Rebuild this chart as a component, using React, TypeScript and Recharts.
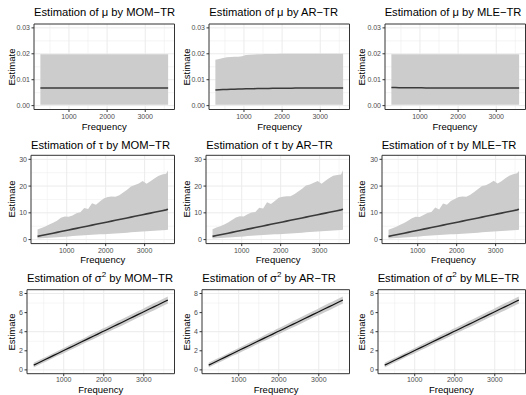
import React from "react";
import {
  ComposedChart,
  Area,
  Line,
  XAxis,
  YAxis,
  CartesianGrid,
  ReferenceArea,
} from "recharts";

// frequencies shared by every panel
const frequency = [
  250, 350, 450, 550, 650, 750, 850, 950, 1050, 1150, 1250, 1350, 1450, 1550,
  1650, 1750, 1850, 1950, 2050, 2150, 2250, 2350, 2450, 2550, 2650, 2750, 2850,
  2950, 3050, 3150, 3250, 3350, 3450, 3550, 3600,
];

// mu
const muEstMOM = [
  0.0068, 0.0068, 0.0068, 0.0068, 0.0068, 0.0068, 0.0068, 0.0068, 0.0068, 0.0068,
  0.0068, 0.0068, 0.0068, 0.0068, 0.0068, 0.0068, 0.0068, 0.0068, 0.0068, 0.0068,
  0.0068, 0.0068, 0.0068, 0.0068, 0.0068, 0.0068, 0.0068, 0.0068, 0.0068, 0.0068,
  0.0068, 0.0068, 0.0068, 0.0068, 0.0068,
];
const muLowMOM = [
  0.0003, 0.0003, 0.0003, 0.0003, 0.0003, 0.0003, 0.0003, 0.0003, 0.0003, 0.0003,
  0.0003, 0.0003, 0.0003, 0.0003, 0.0003, 0.0003, 0.0003, 0.0003, 0.0003, 0.0003,
  0.0003, 0.0003, 0.0003, 0.0003, 0.0003, 0.0003, 0.0003, 0.0003, 0.0003, 0.0003,
  0.0003, 0.0003, 0.0003, 0.0003, 0.0003,
];
const muHighMOM = [
  0.0198, 0.0198, 0.0198, 0.0198, 0.0198, 0.0198, 0.0198, 0.0198, 0.0198, 0.0198,
  0.0198, 0.0198, 0.0198, 0.0198, 0.0198, 0.0198, 0.0198, 0.0198, 0.0198, 0.0198,
  0.0198, 0.0198, 0.0198, 0.0198, 0.0198, 0.0198, 0.0198, 0.0198, 0.0198, 0.0198,
  0.0198, 0.0198, 0.0198, 0.0198, 0.0198,
];
const muEstAR = [
  0.006, 0.0061, 0.0062, 0.0062, 0.0063, 0.0063, 0.0064, 0.0064, 0.0065, 0.0065,
  0.0065, 0.0066, 0.0066, 0.0066, 0.0066, 0.0067, 0.0067, 0.0067, 0.0067, 0.0067,
  0.0067, 0.0068, 0.0068, 0.0068, 0.0068, 0.0068, 0.0068, 0.0068, 0.0068, 0.0068,
  0.0068, 0.0068, 0.0068, 0.0068, 0.0068,
];
const muHighAR = [
  0.0177, 0.018, 0.0184, 0.0187, 0.0188, 0.0189, 0.0189, 0.0191, 0.0195, 0.0196,
  0.0197, 0.0198, 0.0198, 0.0199, 0.0199, 0.0199, 0.0199, 0.02, 0.02, 0.02,
  0.02, 0.02, 0.02, 0.02, 0.02, 0.02, 0.02, 0.02, 0.02, 0.02,
  0.02, 0.02, 0.02, 0.02, 0.02,
];
const muEstMLE = [
  0.007, 0.007, 0.0069, 0.0069, 0.0069, 0.0069, 0.0069, 0.0069, 0.0069, 0.0068,
  0.0068, 0.0068, 0.0068, 0.0068, 0.0068, 0.0068, 0.0068, 0.0068, 0.0068, 0.0068,
  0.0068, 0.0068, 0.0068, 0.0068, 0.0068, 0.0068, 0.0068, 0.0068, 0.0068, 0.0068,
  0.0068, 0.0068, 0.0068, 0.0068, 0.0068,
];

// tau
const tauEst = [
  1.2, 1.5, 1.8, 2.1, 2.4, 2.7, 3.0, 3.3, 3.6, 3.9, 4.2, 4.5, 4.8, 5.1, 5.4, 5.7,
  6.0, 6.3, 6.6, 6.9, 7.2, 7.5, 7.8, 8.1, 8.4, 8.7, 9.0, 9.3, 9.6, 9.9, 10.2,
  10.5, 10.8, 11.1, 11.3,
];
const tauLow = [
  0.4, 0.5, 0.6, 0.7, 0.8, 0.9, 1.0, 1.1, 1.2, 1.3, 1.4, 1.5, 1.6, 1.7, 1.8, 1.9,
  2.0, 2.0, 2.1, 2.2, 2.3, 2.4, 2.5, 2.6, 2.7, 2.8, 2.9, 3.0, 3.1, 3.2, 3.3, 3.4,
  3.5, 3.6, 3.7,
];
const tauHighMOM = [
  3.8, 4.3, 4.9, 5.6, 6.3, 7.0, 8.2, 8.6, 8.5, 9.0, 9.8, 10.2, 11.8, 11.4, 13.6,
  13.0, 14.2, 15.4, 15.9, 16.1, 16.0, 16.6, 17.6, 18.6, 19.8, 20.4, 21.0, 21.9,
  20.9, 21.8, 22.8, 23.8, 24.3, 24.6, 25.8,
];
const tauHighAR = [
  3.9, 4.5, 5.0, 5.6, 6.4, 7.3, 8.3, 8.7, 8.6, 9.5, 10.1, 10.3, 11.9, 11.6, 14.0,
  13.3, 14.4, 15.6, 16.0, 16.2, 16.2, 16.9, 18.0, 19.0, 20.2, 20.6, 21.2, 21.9,
  20.9, 22.0, 23.0, 23.9, 24.1, 24.3, 25.9,
];
const tauHighMLE = [
  3.7, 4.2, 4.8, 5.5, 6.2, 7.0, 8.0, 8.5, 8.4, 9.2, 9.9, 10.3, 12.0, 11.2, 13.5,
  13.0, 14.4, 15.2, 15.9, 16.1, 16.0, 16.8, 17.8, 18.9, 20.0, 20.3, 21.1, 22.0,
  21.0, 21.8, 22.9, 23.9, 24.4, 24.8, 25.6,
];

// sigma^2
const sigmaEst = [
  0.5, 0.7, 0.91, 1.11, 1.31, 1.52, 1.72, 1.92, 2.13, 2.33, 2.53, 2.74, 2.94,
  3.14, 3.35, 3.55, 3.75, 3.96, 4.16, 4.36, 4.57, 4.77, 4.97, 5.18, 5.38, 5.58,
  5.79, 5.99, 6.19, 6.4, 6.6, 6.8, 7.01, 7.21, 7.31,
];
const sigmaLow = [
  0.25, 0.45, 0.66, 0.86, 1.06, 1.27, 1.47, 1.64, 1.85, 2.05, 2.25, 2.46, 2.66,
  2.86, 3.04, 3.24, 3.44, 3.65, 3.85, 4.05, 4.26, 4.43, 4.63, 4.84, 5.04, 5.24,
  5.45, 5.65, 5.82, 6.03, 6.23, 6.43, 6.64, 6.84, 6.94,
];
const sigmaHigh = [
  0.75, 0.95, 1.16, 1.36, 1.56, 1.77, 1.97, 2.2, 2.41, 2.61, 2.81, 3.02, 3.22,
  3.42, 3.66, 3.86, 4.06, 4.27, 4.47, 4.67, 4.88, 5.11, 5.31, 5.52, 5.72, 5.92,
  6.13, 6.33, 6.56, 6.77, 6.97, 7.17, 7.38, 7.58, 7.68,
];

const methods = ["MOM\u2212TR", "AR\u2212TR", "MLE\u2212TR"];
const xTicks = [1000, 2000, 3000];
const xMinor = [500, 1500, 2500, 3500];
const X_DOMAIN: [number, number] = [82.5, 3767.5];

const rows = [
  {
    sym: "\u03bc",
    sup: "",
    yDomain: [-0.0015, 0.0315] as [number, number],
    yTicks: [0, 0.01, 0.02, 0.03],
    yMinor: [0.005, 0.015, 0.025],
    fmt: (v: number) => v.toFixed(2),
    top: 0,
    plotTop: 24,
    plotBottom: 109.5,
    left: 34,
    titleY: 12,
    freqY: 126,
    tickGap: 2,
    series: [
      { low: muLowMOM, high: muHighMOM, est: muEstMOM },
      { low: muLowMOM, high: muHighAR, est: muEstAR },
      { low: muLowMOM, high: muHighMOM, est: muEstMLE },
    ],
    lineColor: "#3a3a3a",
    lineWidth: 1.6,
  },
  {
    sym: "\u03c4",
    sup: "",
    yDomain: [-1.5, 31.5] as [number, number],
    yTicks: [0, 10, 20, 30],
    yMinor: [5, 15, 25],
    fmt: (v: number) => String(v),
    top: 131.7,
    plotTop: 155,
    plotBottom: 243.3,
    left: 31,
    titleY: 145,
    freqY: 259,
    tickGap: 1.5,
    series: [
      { low: tauLow, high: tauHighMOM, est: tauEst },
      { low: tauLow, high: tauHighAR, est: tauEst },
      { low: tauLow, high: tauHighMLE, est: tauEst },
    ],
    lineColor: "#3a3a3a",
    lineWidth: 1.6,
  },
  {
    sym: "\u03c3",
    sup: "2",
    yDomain: [-0.4, 8.4] as [number, number],
    yTicks: [0, 2, 4, 6, 8],
    yMinor: [1, 3, 5, 7],
    fmt: (v: number) => String(v),
    top: 263.3,
    plotTop: 290,
    plotBottom: 374,
    left: 27,
    titleY: 278,
    freqY: 389.3,
    tickGap: 0.5,
    series: [
      { low: sigmaLow, high: sigmaHigh, est: sigmaEst },
      { low: sigmaLow, high: sigmaHigh, est: sigmaEst },
      { low: sigmaLow, high: sigmaHigh, est: sigmaEst },
    ],
    lineColor: "#111111",
    lineWidth: 1.2,
  },
];

const FONT = "'Liberation Sans', Arial, Helvetica, sans-serif";
const CHART_W = 176;
const CHART_H = 132;
const COL_W = 526 / 3;

function Panel({ row, col }: { row: (typeof rows)[number]; col: number }) {
  const s = row.series[col];
  const data = frequency.map((f, i) => ({
    f,
    band: [s.low[i], s.high[i]],
    est: s.est[i],
  }));
  const x0 = col * COL_W;
  const marginTop = row.plotTop - row.top;
  const xAxisH = row.top + CHART_H - row.plotBottom;
  const plotRight = x0 + CHART_W - 1.5;
  const plotMid = (x0 + row.left + plotRight) / 2;
  const tick = { fontSize: 7, fill: "#4d4d4d", fontFamily: FONT };

  return (
    <>
      <div style={{ position: "absolute", left: x0, top: row.top }}>
        <ComposedChart
          width={CHART_W}
          height={CHART_H}
          data={data}
          margin={{ top: marginTop, right: 1.5, bottom: 0, left: 0 }}
        >
          <CartesianGrid
            stroke="#ebebeb"
            strokeWidth={0.5}
            verticalValues={xMinor}
            horizontalValues={row.yMinor}
          />
          <CartesianGrid
            stroke="#ebebeb"
            strokeWidth={1}
            verticalValues={xTicks}
            horizontalValues={row.yTicks}
          />
          <XAxis
            dataKey="f"
            type="number"
            domain={X_DOMAIN}
            ticks={xTicks}
            allowDataOverflow
            height={xAxisH}
            axisLine={false}
            tickLine={{ stroke: "#333333" }}
            tickSize={2.5}
            tickMargin={row.tickGap}
            tick={tick}
          />
          <YAxis
            type="number"
            domain={row.yDomain}
            ticks={row.yTicks}
            allowDataOverflow
            width={row.left}
            axisLine={false}
            tickLine={{ stroke: "#333333" }}
            tickSize={2.5}
            tickMargin={1.5}
            tickFormatter={row.fmt}
            tick={tick}
          />
          <Area
            dataKey="band"
            stroke="none"
            fill="#cccccc"
            fillOpacity={1}
            isAnimationActive={false}
          />
          <Line
            dataKey="est"
            stroke={row.lineColor}
            strokeWidth={row.lineWidth}
            dot={false}
            isAnimationActive={false}
          />
          <ReferenceArea
            x1={X_DOMAIN[0]}
            x2={X_DOMAIN[1]}
            y1={row.yDomain[0]}
            y2={row.yDomain[1]}
            fill="none"
            stroke="#333333"
            strokeWidth={1}
            ifOverflow="visible"
          />
        </ComposedChart>
      </div>
      <div
        style={{
          position: "absolute",
          left: x0 + row.left,
          top: row.titleY - 7,
          fontSize: 11.2,
          lineHeight: "14px",
          whiteSpace: "nowrap",
          color: "#000",
        }}
      >
        Estimation of {row.sym}
        {row.sup && (
          <sup style={{ fontSize: 8, verticalAlign: "5px", lineHeight: 0 }}>
            {row.sup}
          </sup>
        )}{" "}
        by {methods[col]}
      </div>
      <div
        style={{
          position: "absolute",
          left: plotMid - 30,
          width: 60,
          top: row.freqY - 4.5,
          textAlign: "center",
          fontSize: 9.5,
          lineHeight: "9px",
          color: "#000",
        }}
      >
        Frequency
      </div>
      <div
        style={{
          position: "absolute",
          left: x0 + 11.5 - 30,
          top: (row.plotTop + row.plotBottom) / 2 - 5,
          width: 60,
          textAlign: "center",
          fontSize: 9.5,
          lineHeight: "10px",
          transform: "rotate(-90deg)",
          color: "#000",
        }}
      >
        Estimate
      </div>
    </>
  );
}

export default function App() {
  return (
    <div
      style={{
        position: "absolute",
        left: 0,
        top: 0,
        width: 526,
        height: 395,
        background: "#ffffff",
        fontFamily: FONT,
        overflow: "hidden",
      }}
    >
      {rows.map((row, r) =>
        [0, 1, 2].map((c) => <Panel key={`${r}-${c}`} row={row} col={c} />)
      )}
    </div>
  );
}
